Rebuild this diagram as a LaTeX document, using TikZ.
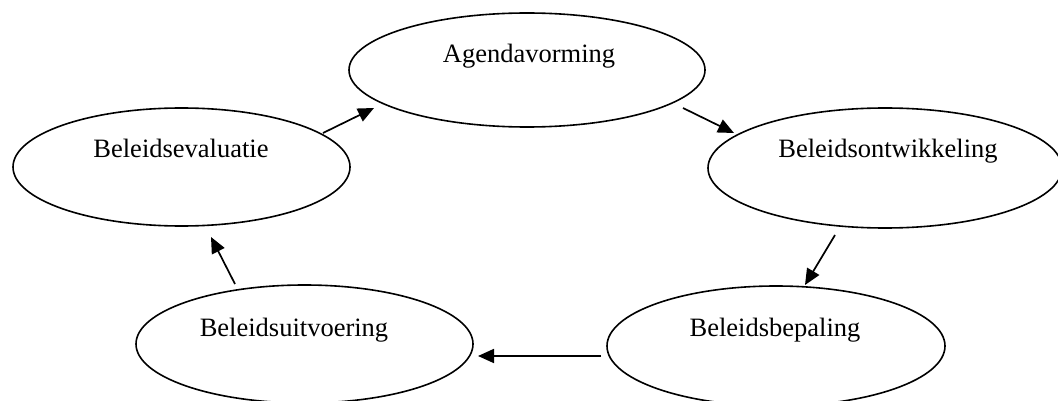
\documentclass[tikz,border=0pt]{standalone}
\usepackage{fontspec}
\setmainfont{Liberation Serif}
\usetikzlibrary{shapes.geometric,arrows.meta}
\begin{document}
\begin{tikzpicture}[x=1pt,y=-1pt,
  oval/.style={draw,ellipse,line width=1.6pt,inner sep=0pt},
  lbl/.style={anchor=base,inner sep=0pt,font=\fontsize{26.5}{30}\selectfont},
  arr/.style={line width=1.7pt,-{Triangle[length=16pt,width=14pt]}}]
\useasboundingbox (0,0) rectangle (1058,401);
\node[oval,minimum width=356pt,minimum height=114pt] (agenda) at (527,70) {};
\node[oval,minimum width=337pt,minimum height=118pt] (eval) at (181.5,167) {};
\node[oval,minimum width=354pt,minimum height=120pt] (ontw) at (885,168) {};
\node[oval,minimum width=337pt,minimum height=118pt] (uitv) at (304.5,344) {};
\node[oval,minimum width=338pt,minimum height=120pt] (bep) at (776,346) {};
\node[lbl] (tagenda) at (529,63) {Agendavorming};
\node[lbl] (teval) at (181,158) {Beleidsevaluatie};
\node[lbl] (tontw) at (888,158) {Beleidsontwikkeling};
\node[lbl] (tuitv) at (294,336) {Beleidsuitvoering};
\node[lbl] (tbep) at (775,336) {Beleidsbepaling};
\coordinate (a1s) at (323,133); \coordinate (a1e) at (374,108);
\coordinate (a2s) at (683,108); \coordinate (a2e) at (734,133);
\coordinate (a3s) at (835,235); \coordinate (a3e) at (805,285);
\coordinate (a4s) at (601,356); \coordinate (a4e) at (478,356);
\coordinate (a5s) at (235,284); \coordinate (a5e) at (211,237);
\draw[arr] (a1s) -- (a1e);
\draw[arr] (a2s) -- (a2e);
\draw[arr] (a3s) -- (a3e);
\draw[arr] (a4s) -- (a4e);
\draw[arr] (a5s) -- (a5e);
\end{tikzpicture}
\end{document}
